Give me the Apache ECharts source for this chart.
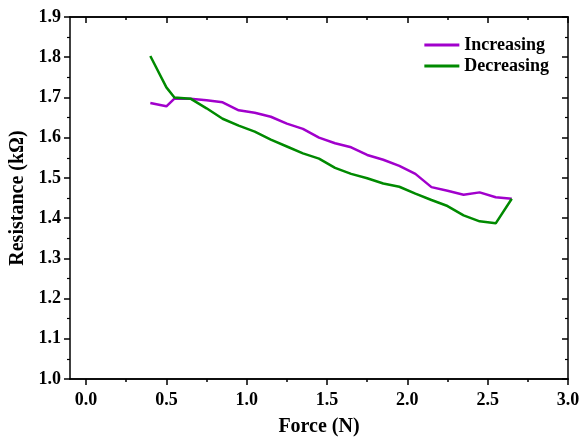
<!DOCTYPE html>
<html>
<head>
<meta charset="utf-8">
<script src="https://cdn.jsdelivr.net/npm/echarts@6/dist/echarts.min.js"></script>
<style>
  html, body { margin: 0; padding: 0; background: #fff; }
  #chart { width: 581px; height: 438px; }
</style>
</head>
<body>
<div id="chart"></div>
<script>
const force = [0.4, 0.5, 0.55, 0.65, 0.75, 0.85, 0.95, 1.05, 1.15, 1.25, 1.35, 1.45,
    1.55, 1.65, 1.75, 1.85, 1.95, 2.05, 2.15, 2.25, 2.35, 2.45, 2.55, 2.65];
const increasing = [1.686, 1.678, 1.697, 1.697, 1.693, 1.688, 1.668, 1.662, 1.652, 1.635, 1.622, 1.600,
    1.586, 1.576, 1.557, 1.545, 1.530, 1.510, 1.477, 1.468, 1.458, 1.464, 1.452, 1.448];
const decreasing = [1.803, 1.725, 1.700, 1.697, 1.673, 1.647, 1.630, 1.615, 1.595, 1.578, 1.561, 1.548,
    1.525, 1.510, 1.499, 1.486, 1.478, 1.461, 1.445, 1.430, 1.407, 1.392, 1.387, 1.448];
const xMajor = [0, 0.5, 1.0, 1.5, 2.0, 2.5, 3.0];
const xMinor = [0.25, 0.75, 1.25, 1.75, 2.25, 2.75];

const font = 'Liberation Serif';
const black = '#000';

const pairs = (ys) => force.map((f, i) => [f, ys[i]]);

function xAxisDef(position, ticks, len, inside, labels) {
    return {
        type: 'value',
        position,
        min: -0.1,
        max: 3.0,
        axisLine: { show: true, onZero: false, lineStyle: { color: black, width: 1.5 } },
        axisTick: { show: true, inside, length: len, customValues: ticks, lineStyle: { color: black, width: 1.5 } },
        axisLabel: labels
            ? { show: true, customValues: xMajor, formatter: (v) => v.toFixed(1), color: black,
                fontFamily: font, fontWeight: 'bold', fontSize: 18, margin: 12 }
            : { show: false },
        splitLine: { show: false },
    };
}

function yAxisDef(position, inside, labels) {
    return {
        type: 'value',
        position,
        min: 1.0,
        max: 1.9,
        interval: 0.1,
        axisLine: { show: true, onZero: false, lineStyle: { color: black, width: 1.5 } },
        axisTick: { show: true, inside, length: 6, lineStyle: { color: black, width: 1.5 } },
        minorTick: { show: true, splitNumber: 2, length: 3, lineStyle: { color: black, width: 1.2 } },
        axisLabel: labels
            ? { show: true, formatter: (v) => v.toFixed(1), color: black,
                fontFamily: font, fontWeight: 'bold', fontSize: 18, margin: 9 }
            : { show: false },
        splitLine: { show: false },
    };
}

const chart = echarts.init(document.getElementById('chart'), null, { renderer: 'canvas' });

const xBottom = xAxisDef('bottom', xMajor, 6, false, true);
xBottom.name = 'Force (N)';
xBottom.nameLocation = 'middle';
xBottom.nameGap = 38;
xBottom.nameTextStyle = { fontFamily: font, fontWeight: 'bold', fontSize: 20, color: black };

const yLeft = yAxisDef('left', false, true);
yLeft.name = 'Resistance (kΩ)';
yLeft.nameLocation = 'middle';
yLeft.nameGap = 42;
yLeft.nameTextStyle = { fontFamily: font, fontWeight: 'bold', fontSize: 20, color: black };

chart.setOption({
    animation: false,
    backgroundColor: '#fff',
    grid: { left: 70, right: 13, top: 17, bottom: 59, outerBoundsMode: 'none' },
    legend: {
        orient: 'vertical',
        right: 27,
        top: 31,
        icon: 'rect',
        itemWidth: 35,
        itemHeight: 3,
        itemGap: 3,
        textStyle: { fontFamily: font, fontWeight: 'bold', fontSize: 18, color: black },
        data: ['Increasing', 'Decreasing'],
    },
    xAxis: [
        xBottom,
        xAxisDef('bottom', xMinor, 3, false, false),
        xAxisDef('top', xMajor, 6, true, false),
        xAxisDef('top', xMinor, 3, true, false),
    ],
    yAxis: [
        yLeft,
        yAxisDef('right', true, false),
    ],
    series: [
        {
            name: 'Increasing',
            type: 'line',
            showSymbol: false,
            color: '#a100cc',
            lineStyle: { color: '#a100cc', width: 2.5 },
            data: pairs(increasing),
        },
        {
            name: 'Decreasing',
            type: 'line',
            showSymbol: false,
            color: '#008a00',
            lineStyle: { color: '#008a00', width: 2.5 },
            data: pairs(decreasing),
        },
    ],
});
</script>
</body>
</html>
